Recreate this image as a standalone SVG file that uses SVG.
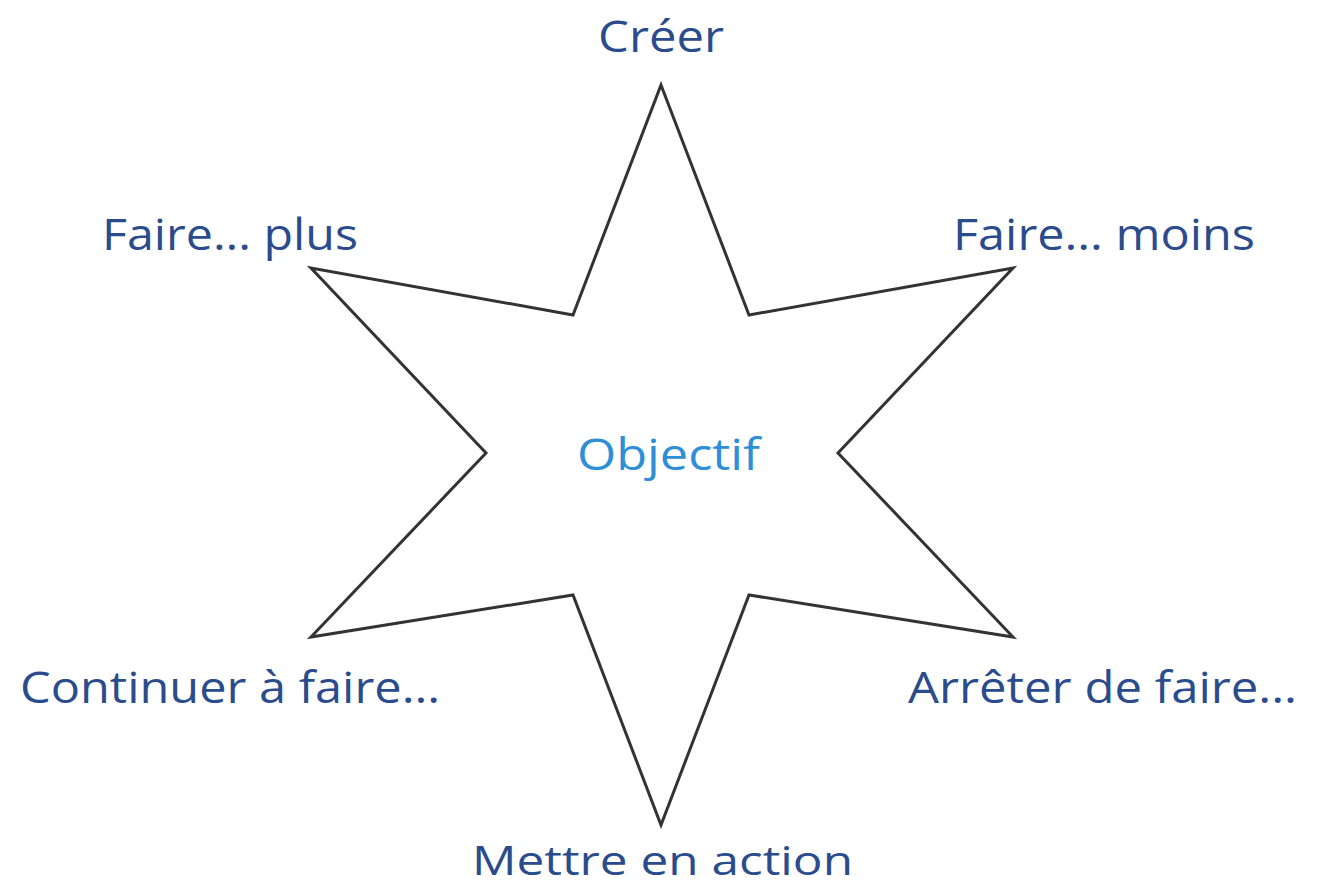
<svg xmlns="http://www.w3.org/2000/svg" width="1322" height="886" viewBox="0 0 1322 886">
<style>
.lbl{font-family:"Open Sans","Liberation Sans",sans-serif;font-size:44px;fill:#2b4c8c}
.ctr{font-family:"Open Sans","Liberation Sans",sans-serif;font-size:44px;fill:#2f8fd6}
.star{fill:#ffffff;stroke:#333333;stroke-width:3;stroke-linejoin:miter}
</style>
<rect width="1322" height="886" fill="#ffffff"/>
<g id="star">
<polygon class="star" points="661,85 749,315 1013,268 838,453 1013,637 749,595 661,825 573,595 311,637 486,453 311,268 573,315"/>
<text class="ctr" x="577" y="470" textLength="183" lengthAdjust="spacingAndGlyphs">Objectif</text>
</g>
<g id="creer"><text class="lbl" x="598" y="52" textLength="126" lengthAdjust="spacingAndGlyphs">Créer</text></g>
<g id="faire-plus"><text class="lbl" x="102" y="250" textLength="256" lengthAdjust="spacingAndGlyphs">Faire... plus</text></g>
<g id="faire-moins"><text class="lbl" x="953" y="250" textLength="302" lengthAdjust="spacingAndGlyphs">Faire... moins</text></g>
<g id="continuer"><text class="lbl" x="20" y="703" textLength="420" lengthAdjust="spacingAndGlyphs">Continuer à faire...</text></g>
<g id="arreter"><text class="lbl" x="908" y="703" textLength="389" lengthAdjust="spacingAndGlyphs">Arrêter de faire...</text></g>
<g id="mettre"><text class="lbl" x="472" y="875" style="font-size:41px" textLength="381" lengthAdjust="spacingAndGlyphs">Mettre en action</text></g>
<g id="connectors"></g>
</svg>
